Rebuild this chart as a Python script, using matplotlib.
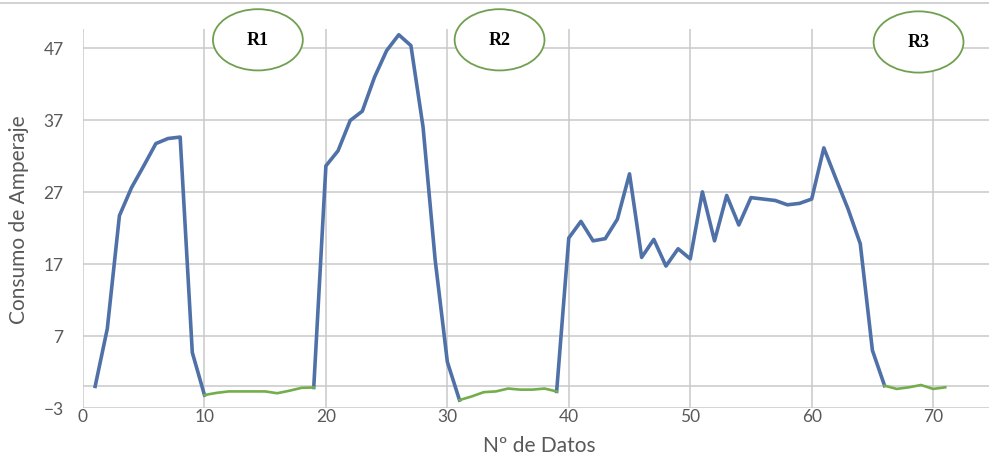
import matplotlib
matplotlib.use('Agg')
import matplotlib.pyplot as plt
from matplotlib.patches import Ellipse
from matplotlib.lines import Line2D
import numpy as np

# amperage readings, one per sample (samples 1..71)
samples = list(range(1, 72))
amps = [0.0, 8.0, 23.7, 27.6, 30.6, 33.7, 34.4, 34.6, 4.7, -1.2,
        -0.9, -0.7, -0.7, -0.7, -0.7, -0.95, -0.6, -0.2, -0.15, 30.6,
        32.7, 36.9, 38.2, 42.9, 46.6, 48.8, 47.3, 36.0, 17.5, 3.4,
        -1.9, -1.4, -0.8, -0.7, -0.3, -0.45, -0.45, -0.3, -0.7, 20.6,
        22.9, 20.2, 20.5, 23.2, 29.5, 17.9, 20.4, 16.7, 19.1, 17.7,
        27.0, 20.2, 26.5, 22.4, 26.2, 26.0, 25.8, 25.2, 25.4, 26.0,
        33.1, 28.8, 24.6, 19.8, 5.0, 0.1, -0.35, -0.13, 0.19, -0.35,
        -0.13]

# rest periods (first and last sample of each) drawn in green
rest_ranges = [(10, 19), (31, 39), (66, 71)]
rest_labels = ['R1', 'R2', 'R3']
# where the labels sit (x sample, y amps)
label_pos = [(14.4, 48.1), (34.3, 48.1), (68.8, 47.8)]

yticks = [-3, 7, 17, 27, 37, 47]
xticks = [0, 10, 20, 30, 40, 50, 60, 70]

blue = '#4f71a8'
green = '#74ad4c'
grid_c = '#c9c9c9'
text_c = '#595959'

plt.rcParams['font.family'] = ['Lato', 'DejaVu Sans']

fig = plt.figure(figsize=(9.89, 4.56), dpi=100)
ax = fig.add_axes([83 / 989, 1 - 409 / 456, 906 / 989, 379 / 456])

x = np.array(samples, dtype=float)
y = np.array(amps, dtype=float)

# working part: blue, broken inside the rest periods
y_work = y.copy()
for a, b in rest_ranges:
    y_work[(x > a) & (x < b)] = np.nan
    if b == x[-1]:
        y_work[x > a] = np.nan
ax.plot(x, y_work, color=blue, lw=2.6, solid_joinstyle='round', zorder=3)

for a, b in rest_ranges:
    m = (x >= a) & (x <= b)
    ax.plot(x[m], y[m], color=green, lw=1.9, zorder=4)

ax.set_xlim(0, 74.6)
ax.set_ylim(-3, 49.6)
ax.set_xticks(xticks)
ax.set_yticks(yticks)
ax.grid(True, color=grid_c, lw=1.1, zorder=0)
ax.axhline(0, color=grid_c, lw=1.1, zorder=1)
for s in ax.spines.values():
    s.set_visible(False)
ax.tick_params(length=0, labelsize=12.5, labelcolor=text_c)
ax.tick_params(axis='y', pad=14)
ax.tick_params(axis='x', pad=0)

ax.set_ylabel('Consumo de Amperaje', fontsize=15, color=text_c)
ax.yaxis.set_label_coords(-0.06, 0.5)
ax.set_xlabel('Nº de Datos', fontsize=15, color=text_c)
ax.xaxis.set_label_coords(0.504, -0.07)

for lab, (cx, cy) in zip(rest_labels, label_pos):
    e = Ellipse((cx, cy), 7.4, 8.5, facecolor='white', edgecolor='#6fa04f',
                lw=1.3, clip_on=False, zorder=5)
    ax.add_patch(e)
    ax.text(cx, cy, lab, ha='center', va='center', fontsize=13,
            fontweight='bold', family='Liberation Serif', color='black',
            zorder=6, clip_on=False)

# chart border line along the top
fig.add_artist(Line2D([0, 1], [1 - 3.5 / 456] * 2, color=grid_c, lw=1.2))

fig.savefig('out.png', dpi=100)
